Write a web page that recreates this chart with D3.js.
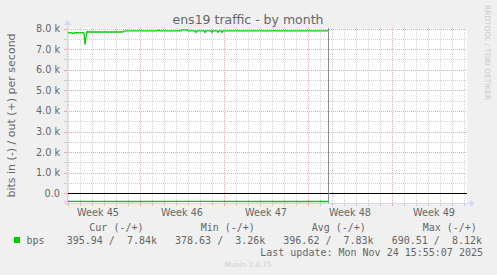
<!DOCTYPE html>
<html>
<head>
<meta charset="utf-8">
<script src="https://cdn.jsdelivr.net/npm/d3@7"></script>
<style>
  html, body { margin: 0; padding: 0; background: #f0f0f0; }
  svg { display: block; }
  text { font-family: "DejaVu Sans", sans-serif; fill: #666666; }
  .mono { font-family: "DejaVu Sans Mono", monospace; white-space: pre; }
</style>
</head>
<body>
<div id="chart"></div>
<script>
// Data

// start of the graph window (UTC) and offsets in hours from it
const windowStart = "2025-10-26T22:00:00Z";
const windowHours = 800;
const nowHours = 522;   // Mon Nov 24 ~15:55

// out (+) bits per second
const outHours = [0, 6, 12, 18, 24, 30, 34, 36, 38, 40, 46, 112, 115, 182, 184, 186,
                  228, 230, 240, 242, 256, 258, 260, 274, 276, 278, 288, 290, 292,
                  300, 302, 304, 308, 310, 312, 400, 522];
const outValues = [7780, 7800, 7770, 7800, 7790, 7800, 7780, 7210, 7600, 7840, 7830, 7830, 7890, 7890, 7920, 7890,
                   7890, 7930, 7930, 7890, 7890, 7810, 7890, 7890, 7810, 7890, 7890, 7810, 7890,
                   7890, 7820, 7890, 7890, 7810, 7890, 7890, 7890];

// in (-) bits per second
const inHours = [0, 120, 260, 400, 522];
const inValues = [394, 397, 395, 397, 396];

// y ticks
const yMajorTicks = [0, 1000, 2000, 3000, 4000, 5000, 6000, 7000, 8000];
const yMinorTicks = [500, 1500, 2500, 3500, 4500, 5500, 6500, 7500];

// week labels (one per week, centred half a week before each sunday line)
const weekLabels = ["Week 45", "Week 46", "Week 47", "Week 48", "Week 49"];

// legend
const legendHeaders = ["Cur (-/+)", "Min (-/+)", "Avg (-/+)", "Max (-/+)"];
const legendIn = ["395.94", "378.63", "396.62", "690.51"];
const legendOut = ["7.84k", "3.26k", "7.83k", "8.12k"];
const seriesName = "bps";
const lastUpdate = "Last update: Mon Nov 24 15:55:07 2025";

function drawChart() {
    const width = 497, height = 275;
    const plot = { left: 67, right: 467, top: 28, bottom: 203 };

    const svg = d3.select("#chart").append("svg")
        .attr("width", width)
        .attr("height", height);

    svg.append("rect").attr("width", width).attr("height", height).attr("fill", "#f0f0f0");

    const t0 = new Date(windowStart);
    const hourToDate = (h) => new Date(t0.getTime() + h * 3600e3);

    const x = d3.scaleUtc()
        .domain([t0, hourToDate(windowHours)])
        .range([plot.left, plot.right]);

    const y = d3.scaleLinear()
        .domain([-470, 8025])
        .range([plot.bottom, plot.top]);

    const px = (v) => Math.round(v) + 0.5;

    // canvas
    svg.append("rect")
        .attr("x", plot.left).attr("y", plot.top)
        .attr("width", plot.right - plot.left).attr("height", plot.bottom - plot.top)
        .attr("fill", "#ffffff");

    const grid = svg.append("g").attr("shape-rendering", "crispEdges");

    // minor grid: days and half thousands
    const days = x.ticks(d3.utcDay.every(1)).filter((d) => d.getUTCDay() !== 0);
    grid.selectAll(".vminor").data(days).enter().append("line")
        .attr("x1", (d) => px(x(d))).attr("x2", (d) => px(x(d)))
        .attr("y1", plot.top).attr("y2", plot.bottom)
        .attr("stroke", "#d0d0d0").attr("stroke-dasharray", "1,1");
    grid.selectAll(".hminor").data(yMinorTicks).enter().append("line")
        .attr("x1", plot.left).attr("x2", plot.right)
        .attr("y1", (d) => px(y(d))).attr("y2", (d) => px(y(d)))
        .attr("stroke", "#d0d0d0").attr("stroke-dasharray", "1,1");

    // major grid: sundays and thousands
    const sundays = x.ticks(d3.utcSunday.every(1));
    grid.selectAll(".vmajor").data(sundays).enter().append("line")
        .attr("x1", (d) => px(x(d))).attr("x2", (d) => px(x(d)))
        .attr("y1", plot.top).attr("y2", plot.bottom)
        .attr("stroke", "#eca4a4").attr("stroke-dasharray", "1,1");
    grid.selectAll(".hmajor").data(yMajorTicks).enter().append("line")
        .attr("x1", plot.left).attr("x2", plot.right)
        .attr("y1", (d) => px(y(d))).attr("y2", (d) => px(y(d)))
        .attr("stroke", "#eca4a4").attr("stroke-dasharray", "1,1");

    // small ticks outside the axes
    grid.selectAll(".ytick").data(yMajorTicks.concat(yMinorTicks)).enter().append("line")
        .attr("x1", plot.left - 3).attr("x2", plot.left)
        .attr("y1", (d) => px(y(d))).attr("y2", (d) => px(y(d)))
        .attr("stroke", (d) => d % 1000 === 0 ? "#eca4a4" : "#cccccc");
    grid.selectAll(".xtick").data(days.concat(sundays)).enter().append("line")
        .attr("x1", (d) => px(x(d))).attr("x2", (d) => px(x(d)))
        .attr("y1", plot.bottom).attr("y2", plot.bottom + 3)
        .attr("stroke", (d) => d.getUTCDay() === 0 ? "#eca4a4" : "#cccccc");

    // y tick labels
    svg.selectAll(".ylab").data(yMajorTicks).enter().append("text")
        .attr("x", 60).attr("y", (d) => y(d))
        .attr("dy", "0.36em")
        .attr("text-anchor", "end")
        .style("font-size", "9.7px")
        .text((d) => d === 0 ? "0.0" : d3.format(".1f")(d / 1000) + " k");

    // week labels, half a week before each sunday line
    const week = 7 * 86400e3;
    svg.selectAll(".xlab").data(weekLabels).enter().append("text")
        .attr("x", (d, i) => x(new Date(sundays[0].getTime() + (i - 0.5) * week)))
        .attr("y", 216)
        .attr("text-anchor", "middle")
        .style("font-size", "9.7px")
        .text((d) => d);

    // zero rule
    svg.append("line")
        .attr("x1", plot.left).attr("x2", plot.right)
        .attr("y1", px(y(0))).attr("y2", px(y(0)))
        .attr("stroke", "#000000").attr("shape-rendering", "crispEdges");

    // series
    const line = d3.line()
        .x((d) => x(hourToDate(d[0])))
        .y((d) => y(d[1]));

    svg.append("path")
        .datum(outHours.map((h, i) => [h, outValues[i]]))
        .attr("d", line)
        .attr("fill", "none")
        .attr("stroke", "#00cc00")
        .attr("stroke-width", 1.3);

    svg.append("path")
        .datum(inHours.map((h, i) => [h, -inValues[i]]))
        .attr("d", line)
        .attr("fill", "none")
        .attr("stroke", "#00cc00")
        .attr("stroke-width", 1.3);

    // now line
    svg.append("line")
        .attr("x1", px(x(hourToDate(nowHours)))).attr("x2", px(x(hourToDate(nowHours))))
        .attr("y1", plot.top).attr("y2", plot.bottom)
        .attr("stroke", "#8c8c8c").attr("shape-rendering", "crispEdges");

    // axes with arrows
    const axisColor = "#cfd6f8";
    svg.append("line")
        .attr("x1", plot.left - 3).attr("x2", plot.right + 4)
        .attr("y1", plot.bottom + 0.5).attr("y2", plot.bottom + 0.5)
        .attr("stroke", axisColor).attr("shape-rendering", "crispEdges");
    svg.append("line")
        .attr("x1", plot.left + 0.5).attr("x2", plot.left + 0.5)
        .attr("y1", plot.bottom + 3).attr("y2", plot.top - 4)
        .attr("stroke", axisColor).attr("shape-rendering", "crispEdges");
    svg.append("path")
        .attr("d", `M${plot.right + 3},${plot.bottom - 3} L${plot.right + 8},${plot.bottom + 0.5} L${plot.right + 3},${plot.bottom + 4} Z`)
        .attr("fill", axisColor);
    svg.append("path")
        .attr("d", `M${plot.left - 3},${plot.top - 3} L${plot.left + 0.5},${plot.top - 8} L${plot.left + 4},${plot.top - 3} Z`)
        .attr("fill", axisColor);

    // title
    svg.append("text")
        .attr("x", 248).attr("y", 23.5)
        .attr("text-anchor", "middle")
        .style("font-size", "12.5px")
        .text("ens19 traffic - by month");

    // vertical unit label
    svg.append("text")
        .attr("transform", `translate(14.5,${(plot.top + plot.bottom) / 2}) rotate(-90)`)
        .attr("text-anchor", "middle")
        .style("font-size", "11px")
        .text("bits in (-) / out (+) per second");

    // watermark
    svg.append("text")
        .attr("transform", "translate(485,5) rotate(90)")
        .attr("text-anchor", "start")
        .style("font-size", "7.4px")
        .style("fill", "#c8c8c8")
        .text("RRDTOOL / TOBI OETIKER");

    // legend
    const headerX = [89.3, 200.7, 311.7, 422.7];
    const valueX = [66.7, 175, 283.3, 391.7];

    svg.selectAll(".lhead").data(legendHeaders).enter().append("text")
        .attr("class", "mono")
        .attr("x", (d, i) => headerX[i]).attr("y", 230.5)
        .style("font-size", "10px")
        .text((d) => d);

    svg.append("rect")
        .attr("x", 14).attr("y", 237).attr("width", 6).attr("height", 6)
        .attr("fill", "#00cc00");
    svg.append("text")
        .attr("class", "mono")
        .attr("x", 26.5).attr("y", 243.5)
        .style("font-size", "10px")
        .text(seriesName);

    svg.selectAll(".lval").data(legendIn).enter().append("text")
        .attr("class", "mono")
        .attr("x", (d, i) => valueX[i]).attr("y", 243.5)
        .style("font-size", "10px")
        .text((d, i) => d.padStart(6) + " / " + legendOut[i].padStart(6));

    svg.append("text")
        .attr("class", "mono")
        .attr("x", 483).attr("y", 255.5)
        .attr("text-anchor", "end")
        .style("font-size", "10px")
        .text(lastUpdate);

    svg.append("text")
        .attr("x", 248).attr("y", 267)
        .attr("text-anchor", "middle")
        .style("font-size", "7.2px")
        .style("fill", "#cccccc")
        .text("Munin 2.0.75");
}

drawChart();
</script>
</body>
</html>
